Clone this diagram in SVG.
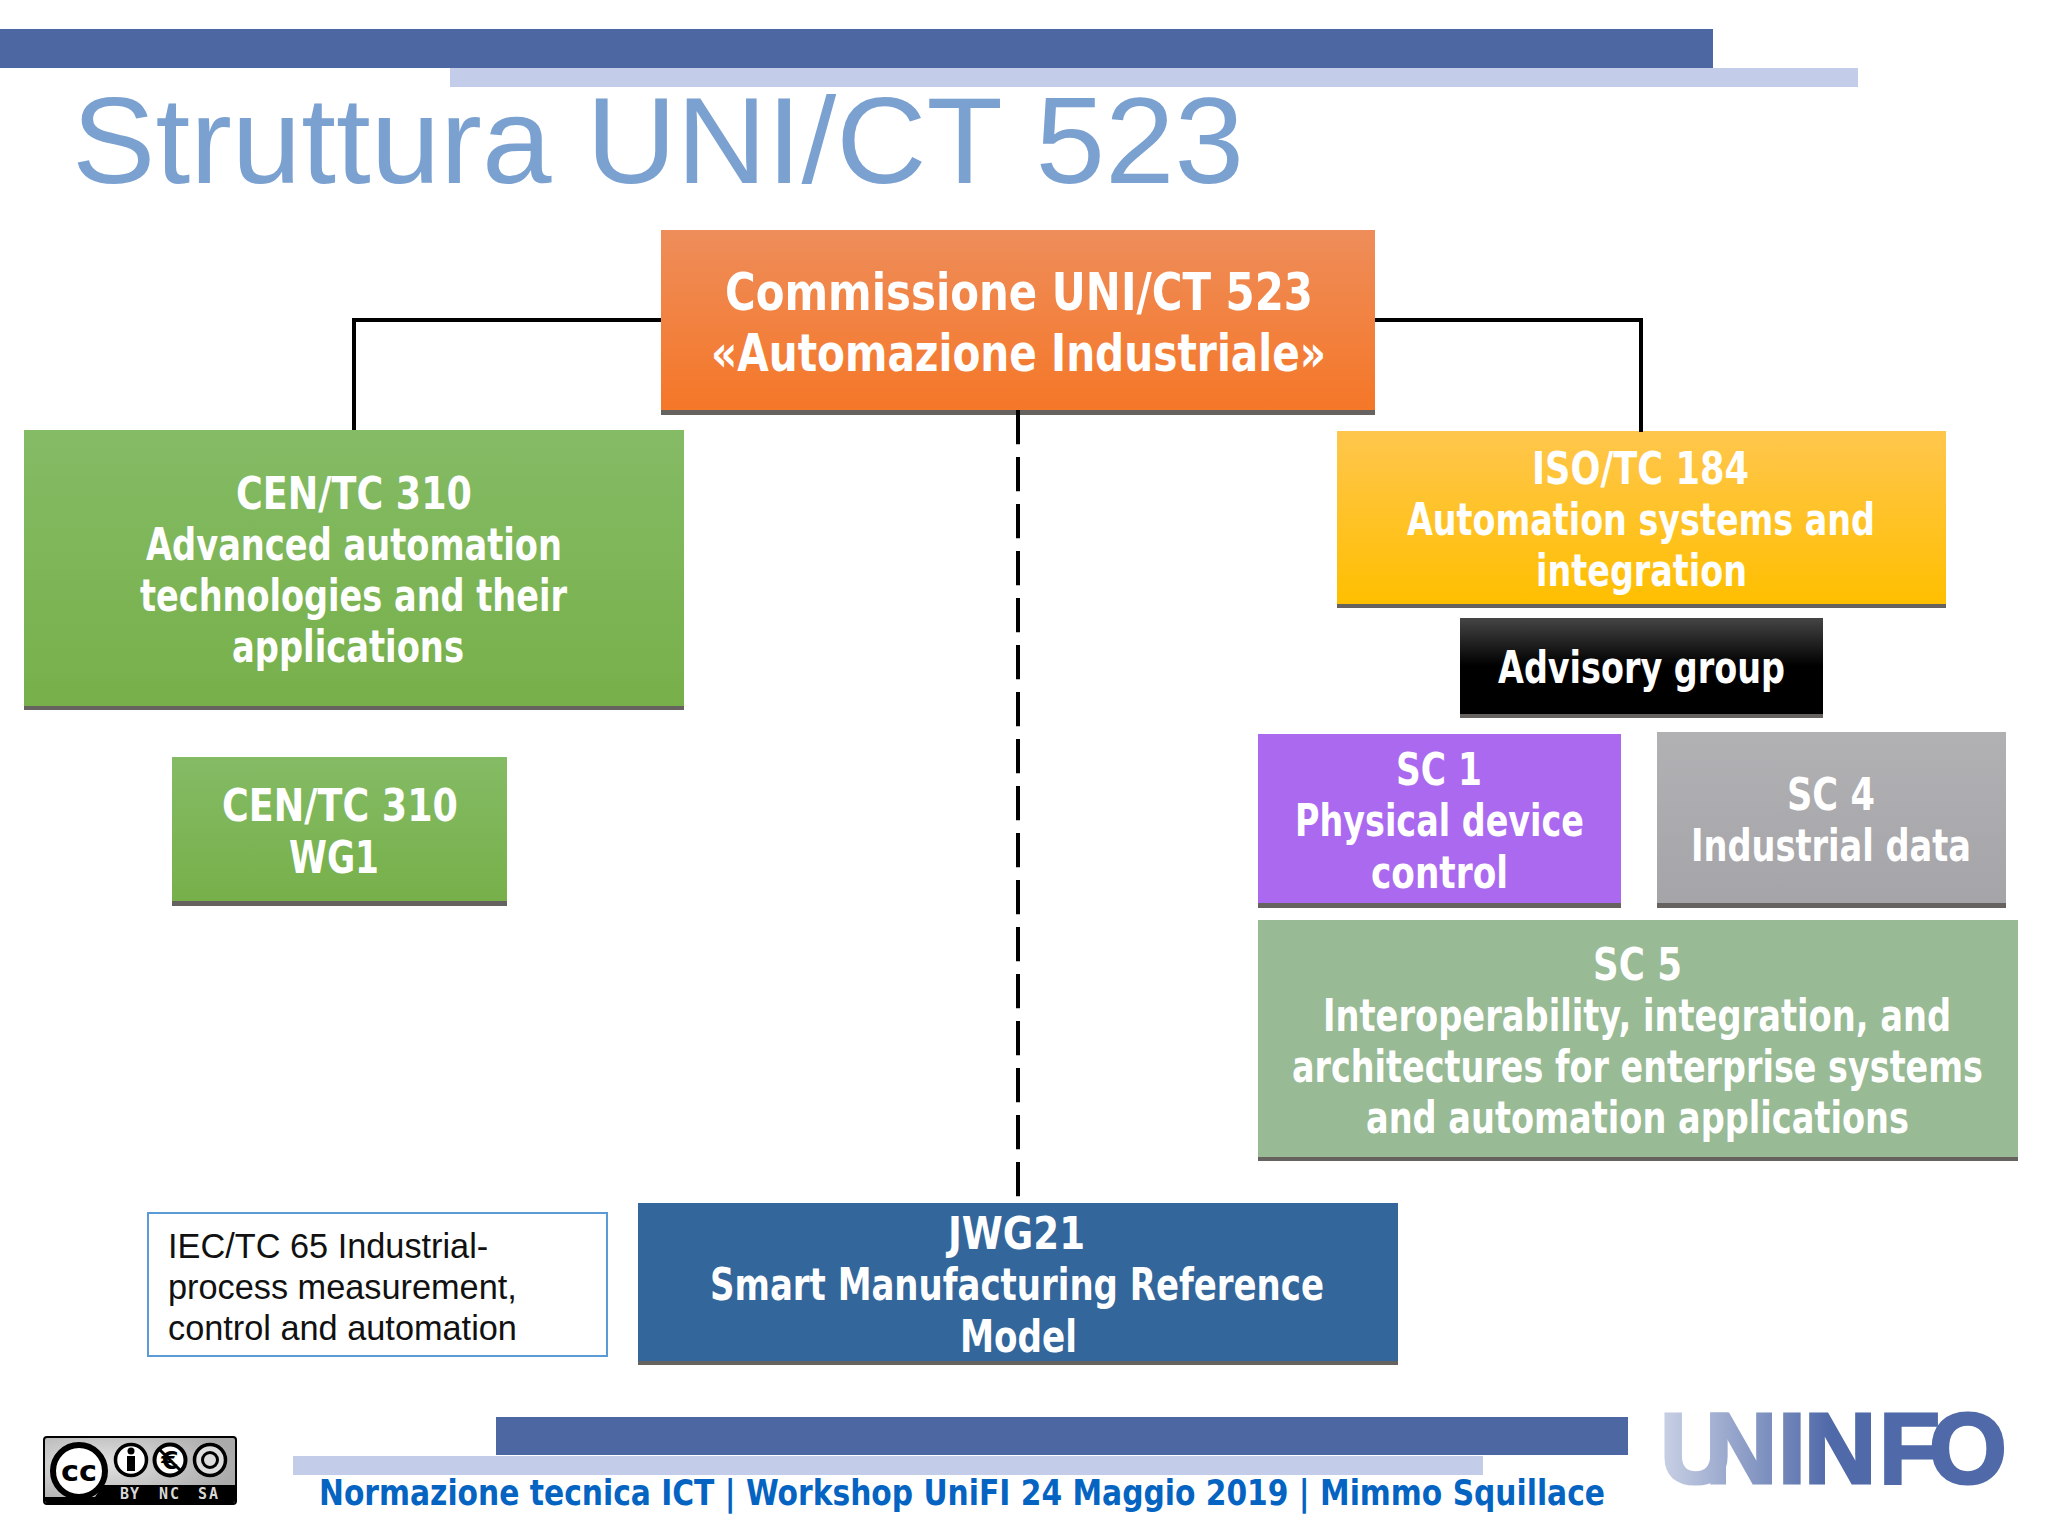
<svg xmlns="http://www.w3.org/2000/svg" width="2048" height="1536" viewBox="0 0 2048 1536">
<defs>
<linearGradient id="gOrange" x1="0" y1="0" x2="0" y2="1"><stop offset="0" stop-color="#ee8d5a"/><stop offset="1" stop-color="#f57728"/></linearGradient>
<linearGradient id="gYellow" x1="0" y1="0" x2="0" y2="1"><stop offset="0" stop-color="#ffc64d"/><stop offset="1" stop-color="#ffbf00"/></linearGradient>
<linearGradient id="gBlack" x1="0" y1="0" x2="0" y2="1"><stop offset="0" stop-color="#454545"/><stop offset=".5" stop-color="#000"/><stop offset="1" stop-color="#000"/></linearGradient>
<linearGradient id="gGreen" x1="0" y1="0" x2="0" y2="1"><stop offset="0" stop-color="#84bb65"/><stop offset="1" stop-color="#77b04a"/></linearGradient>
<linearGradient id="gGray" x1="0" y1="0" x2="0" y2="1"><stop offset="0" stop-color="#b1b0b3"/><stop offset="1" stop-color="#a5a4a8"/></linearGradient>
<linearGradient id="gLogo" gradientUnits="userSpaceOnUse" x1="1663" y1="0" x2="1830" y2="0"><stop offset="0" stop-color="#c8d0e4"/><stop offset="1" stop-color="#5069a8"/></linearGradient>
<radialGradient id="gBadge" cx=".3" cy=".4" r=".7"><stop offset="0" stop-color="#e4e4e4"/><stop offset="1" stop-color="#aaa"/></radialGradient>
</defs>
<style>
.l{font-family:"DejaVu Sans",sans-serif;font-weight:700;font-stretch:condensed;fill:#fff;font-size:44px}
.h{font-size:51px}
.sm{font-size:36px}
.sh{fill:#66625f}
.foot{font-family:"DejaVu Sans",sans-serif;font-weight:700;font-stretch:condensed;fill:#0563c1;font-size:35px}
.conn{fill:none;stroke:#000;stroke-width:4}
.iec{font-family:"Liberation Sans",Arial,sans-serif;font-size:34.3px;fill:#111}
.cct{font-family:"DejaVu Sans",sans-serif;font-weight:700}
.ccs{font-family:"DejaVu Sans Mono",monospace;font-weight:700;font-size:15px;fill:#d8d8d8}
</style>
<rect width="2048" height="1536" fill="#fff"/>
<g id="header">
<rect x="0" y="29" width="1713" height="39" fill="#4d67a3"/>
<rect x="450" y="68" width="1408" height="19" fill="#c3cce8"/>
<text x="72" y="183" font-family="'Liberation Sans',Arial,sans-serif" font-size="122" fill="#7ba1d1" textLength="1172" lengthAdjust="spacingAndGlyphs">Struttura UNI/CT 523</text>
</g>
<g id="n-commissione">
<rect class="sh" x="661" y="409" width="714" height="6"/>
<rect x="661" y="230" width="714" height="180" fill="url(#gOrange)"/>
<text class="l h" x="725" y="310" textLength="588" lengthAdjust="spacingAndGlyphs">Commissione UNI/CT 523</text>
<text class="l h" x="711" y="371" textLength="615" lengthAdjust="spacingAndGlyphs">«Automazione Industriale»</text>
</g>
<g id="n-cen310">
<rect class="sh" x="24" y="705" width="660" height="5"/>
<rect x="24" y="430" width="660" height="276" fill="url(#gGreen)"/>
<text class="l" x="236" y="509" textLength="236" lengthAdjust="spacingAndGlyphs">CEN/TC 310</text>
<text class="l" x="146" y="560" textLength="416" lengthAdjust="spacingAndGlyphs">Advanced automation</text>
<text class="l" x="140" y="611" textLength="427" lengthAdjust="spacingAndGlyphs">technologies and their</text>
<text class="l" x="232" y="662" textLength="232" lengthAdjust="spacingAndGlyphs">applications</text>
</g>
<g id="n-wg1">
<rect class="sh" x="172" y="900" width="335" height="6"/>
<rect x="172" y="757" width="335" height="144" fill="url(#gGreen)"/>
<text class="l" x="222" y="821" textLength="236" lengthAdjust="spacingAndGlyphs">CEN/TC 310</text>
<text class="l" x="289" y="873" textLength="90" lengthAdjust="spacingAndGlyphs">WG1</text>
</g>
<g id="n-iso">
<rect class="sh" x="1337" y="603" width="609" height="5"/>
<rect x="1337" y="431" width="609" height="173" fill="url(#gYellow)"/>
<text class="l" x="1532" y="484" textLength="217" lengthAdjust="spacingAndGlyphs">ISO/TC 184</text>
<text class="l" x="1407" y="535" textLength="468" lengthAdjust="spacingAndGlyphs">Automation systems and</text>
<text class="l" x="1536" y="586" textLength="211" lengthAdjust="spacingAndGlyphs">integration</text>
</g>
<g id="n-advisory">
<rect class="sh" x="1460" y="713" width="363" height="5"/>
<rect x="1460" y="618" width="363" height="96" fill="url(#gBlack)"/>
<text class="l" x="1498" y="683" textLength="287" lengthAdjust="spacingAndGlyphs">Advisory group</text>
</g>
<g id="n-sc1">
<rect class="sh" x="1258" y="902" width="363" height="6"/>
<rect x="1258" y="734" width="363" height="169" fill="#ab69f0"/>
<text class="l" x="1396" y="785" textLength="86" lengthAdjust="spacingAndGlyphs">SC 1</text>
<text class="l" x="1295" y="836" textLength="289" lengthAdjust="spacingAndGlyphs">Physical device</text>
<text class="l" x="1371" y="888" textLength="137" lengthAdjust="spacingAndGlyphs">control</text>
</g>
<g id="n-sc4">
<rect class="sh" x="1657" y="902" width="349" height="6"/>
<rect x="1657" y="732" width="349" height="171" fill="url(#gGray)"/>
<text class="l" x="1787" y="810" textLength="88" lengthAdjust="spacingAndGlyphs">SC 4</text>
<text class="l" x="1691" y="861" textLength="280" lengthAdjust="spacingAndGlyphs">Industrial data</text>
</g>
<g id="n-sc5">
<rect class="sh" x="1258" y="1156" width="760" height="5"/>
<rect x="1258" y="920" width="760" height="237" fill="#98ba94"/>
<text class="l" x="1593" y="980" textLength="89" lengthAdjust="spacingAndGlyphs">SC 5</text>
<text class="l sm" transform="translate(1323 1031) scale(1 1.2222)" textLength="628" lengthAdjust="spacingAndGlyphs">Interoperability, integration, and</text>
<text class="l sm" transform="translate(1292 1082) scale(1 1.2222)" textLength="691" lengthAdjust="spacingAndGlyphs">architectures for enterprise systems</text>
<text class="l" x="1366" y="1133" textLength="543" lengthAdjust="spacingAndGlyphs">and automation applications</text>
</g>
<g id="n-iec">
<rect x="148" y="1213" width="459" height="143" fill="#fff" stroke="#5b9bd5" stroke-width="2"/>
<text class="iec" x="168" y="1258">IEC/TC 65 Industrial-</text>
<text class="iec" x="168" y="1299">process measurement,</text>
<text class="iec" x="168" y="1340">control and automation</text>
</g>
<g id="n-jwg21">
<rect class="sh" x="638" y="1360" width="760" height="5"/>
<rect x="638" y="1203" width="760" height="158" fill="#33669b"/>
<text class="l" x="948" y="1249" textLength="137" lengthAdjust="spacingAndGlyphs">JWG21</text>
<text class="l" x="710" y="1300" textLength="614" lengthAdjust="spacingAndGlyphs">Smart Manufacturing Reference</text>
<text class="l" x="960" y="1352" textLength="117" lengthAdjust="spacingAndGlyphs">Model</text>
</g>
<g id="connectors">
<path class="conn" d="M661 320H354V430"/>
<path class="conn" d="M1375 320H1641V432"/>
<path class="conn" d="M1018 410V1197" stroke-width="4.5" style="stroke-dasharray:34.3 12.7"/>
</g>
<g id="footer">
<rect x="496" y="1417" width="1132" height="38" fill="#4d67a3"/>
<rect x="293" y="1456" width="1190" height="19" fill="#c3cce8"/>
<text class="foot" x="319" y="1505" textLength="1286" lengthAdjust="spacingAndGlyphs">Normazione tecnica ICT | Workshop UniFI 24 Maggio 2019 | Mimmo Squillace</text>
</g>
<g id="cc-badge">
<rect x="44" y="1437" width="192" height="67" rx="3" fill="url(#gBadge)" stroke="#000" stroke-width="2"/>
<path d="M103 1485H235V1501a2 2 0 0 1-2 2H47a2 2 0 0 1-2-2V1497H95Z" fill="#000"/>
<circle cx="79" cy="1471" r="26" fill="#fff" stroke="#000" stroke-width="6"/>
<text class="cct" x="79" y="1481" font-size="29" text-anchor="middle" textLength="36" lengthAdjust="spacingAndGlyphs">cc</text>
<circle cx="131" cy="1460" r="15.5" fill="#fff" stroke="#000" stroke-width="3.5"/>
<circle cx="131" cy="1451" r="3.5" fill="#000"/><rect x="127" y="1456" width="8" height="15" fill="#000"/>
<circle cx="170" cy="1460" r="15.5" fill="#fff" stroke="#000" stroke-width="4"/>
<text class="cct" x="170" y="1469" font-size="25" text-anchor="middle">€</text>
<path d="M159 1449L181 1471" stroke="#000" stroke-width="3"/>
<circle cx="210" cy="1460" r="15.5" fill="#ddd" stroke="#000" stroke-width="3.5"/>
<circle cx="210" cy="1460" r="7.5" fill="none" stroke="#000" stroke-width="3"/>
<text class="ccs" x="120" y="1499" textLength="19">BY</text>
<text class="ccs" x="159" y="1499" textLength="20">NC</text>
<text class="ccs" x="198" y="1499" textLength="20">SA</text>
</g>
<g id="logo">
<text x="1660 1705 1778 1804 1879 1929" y="1483" font-family="'Liberation Sans',Arial,sans-serif" font-weight="700" font-size="100" fill="url(#gLogo)" stroke="url(#gLogo)" stroke-width="3">UNINFO</text>
</g>
</svg>
